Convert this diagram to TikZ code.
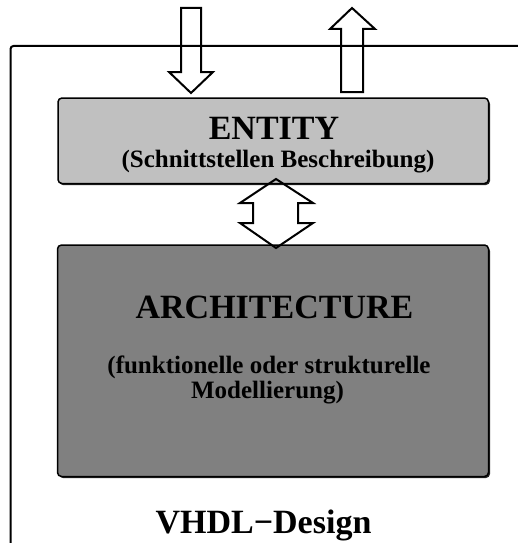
\documentclass[tikz,border=0pt]{standalone}
\usepackage{fontspec}
\setmainfont{Liberation Serif}
\begin{document}
\begin{tikzpicture}[x=1pt,y=-1pt,
  frame/.style={line width=2pt},
  block/.style={draw=black,line width=1.5pt,rounded corners=4pt},
  shadowbox/.style={fill=black!85,rounded corners=4pt},
  blockarrow/.style={draw=black,line width=2pt,line join=miter},
  title/.style={font=\bfseries\fontsize{34}{38}\selectfont},
  sub/.style={font=\bfseries\fontsize{25}{29}\selectfont,align=center}]
\useasboundingbox (0,0) rectangle (518,543);

% design frame (open to the right and bottom)
\draw[frame,rounded corners=3pt] (10.5,560) -- (10.5,46) -- (530,46);

% entity block
\fill[shadowbox] (59,100) rectangle (490,185);
\draw[block,fill={rgb,255:red,192;green,192;blue,192}] (58,98) rectangle (488.5,183.5);
\node[title,anchor=base] (ent) at (274,139) {ENTITY};
\node[sub,anchor=base] (entsub) at (278,167) {(Schnittstellen Beschreibung)};

% architecture block
\fill[shadowbox] (59,247) rectangle (490,478);
\draw[block,fill={rgb,255:red,128;green,128;blue,128}] (57.5,245) rectangle (488.5,476.5);
\node[title,anchor=base] (arch) at (274.5,318) {ARCHITECTURE};
\node[sub,anchor=base] (archsub1) at (269,373) {(funktionelle oder strukturelle};
\node[sub,anchor=base] (archsub2) at (267.5,398) {Modellierung)};

% design name
\node[font=\bfseries\fontsize{34}{40}\selectfont,anchor=base] (design) at (263.5,533) {VHDL−Design};

% input port arrow
\draw[blockarrow] (181,8) -- (201,8) -- (201,72) -- (213,72) -- (191,93)
  -- (169,72) -- (181,72) -- cycle;
% output port arrow
\draw[blockarrow] (352,8) -- (375,29) -- (363,29) -- (363,92) -- (341,92)
  -- (341,29) -- (330,29) -- cycle;
% link between entity and architecture
\draw[blockarrow] (276,179) -- (313,203) -- (298,203) -- (298,223) -- (313,223)
  -- (276,248) -- (240,223) -- (253,223) -- (253,203) -- (240,203) -- cycle;
\end{tikzpicture}
\end{document}
